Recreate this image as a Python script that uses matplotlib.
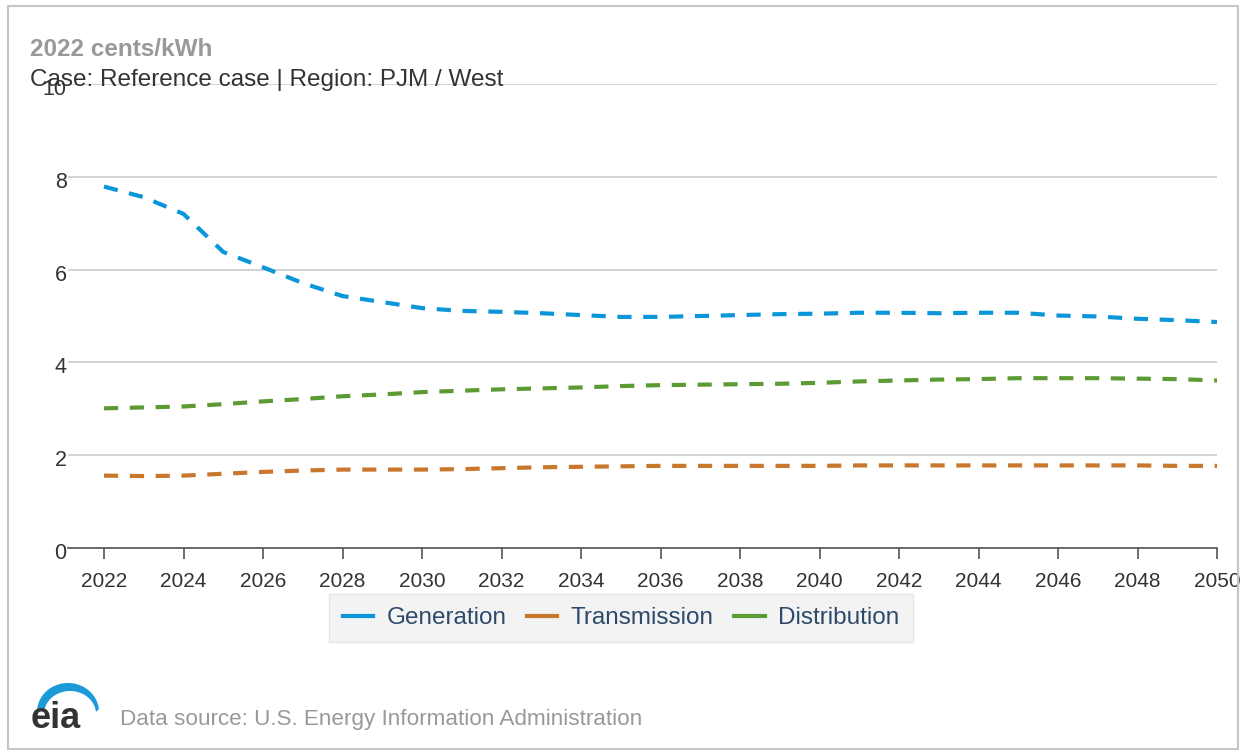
import numpy as np
import matplotlib.pyplot as plt
import matplotlib.transforms as mtransforms
from matplotlib.lines import Line2D
from matplotlib.patches import Rectangle, Polygon

plt.rcParams['font.family'] = ['Liberation Sans', 'DejaVu Sans']

# Electricity price components, 2022 cents/kWh
years = list(range(2022, 2051))
generation = [7.79, 7.56, 7.20, 6.38, 6.05, 5.71, 5.43, 5.30, 5.17, 5.11,
              5.09, 5.06, 5.02, 4.98, 4.98, 5.00, 5.02, 5.04, 5.05, 5.07,
              5.07, 5.06, 5.07, 5.07, 5.01, 4.99, 4.94, 4.91, 4.87]
transmission = [1.56, 1.55, 1.56, 1.60, 1.64, 1.67, 1.69, 1.69, 1.69, 1.70,
                1.72, 1.74, 1.75, 1.76, 1.77, 1.77, 1.77, 1.77, 1.77, 1.78,
                1.78, 1.78, 1.78, 1.78, 1.78, 1.78, 1.78, 1.77, 1.77]
distribution = [3.01, 3.03, 3.05, 3.10, 3.16, 3.21, 3.27, 3.31, 3.36, 3.39,
                3.42, 3.44, 3.46, 3.49, 3.51, 3.52, 3.53, 3.54, 3.56, 3.59,
                3.61, 3.63, 3.64, 3.66, 3.66, 3.66, 3.65, 3.64, 3.61]

series_names = ['Generation', 'Transmission', 'Distribution']
series_colors = ['#0a96d8', '#c8772c', '#5c9a33']
x_ticks = list(range(2022, 2051, 2))
y_ticks = [0, 2, 4, 6, 8, 10]

W, H = 1242, 750
fig = plt.figure(figsize=(W / 100, H / 100), dpi=100)

# outer frame
fig.patches.append(Rectangle((7.5 / W, 1 / H), 1230 / W, 743 / H, transform=fig.transFigure,
                             fill=False, edgecolor='#c6c6c6', lw=1.5))

ax = fig.add_axes([68 / W, (H - 548) / H, (1217 - 68) / W, (548 - 84) / H])
ax.set_xlim(2022 - 36 / 39.75, 2050)
ax.set_ylim(0, 10)

dash = (0, (3.4, 2.8))
for vals, name, col in zip([generation, transmission, distribution], series_names, series_colors):
    ax.plot(years, vals, color=col, lw=3.0, linestyle=dash, dash_capstyle='butt',
            solid_capstyle='butt', label=name, zorder=3)

ax.set_yticks(y_ticks)
ax.set_xticks(x_ticks)
ax.grid(axis='y', color='#cccccc', lw=1.2)
ax.set_axisbelow(True)
for s in ['top', 'right', 'left']:
    ax.spines[s].set_visible(False)
ax.spines['bottom'].set_color('#555555')
ax.spines['bottom'].set_linewidth(1.2)
ax.tick_params(axis='y', length=0, pad=1, labelsize=15.5, labelcolor='#333333')
# y labels sit a little below their grid lines
shift = mtransforms.ScaledTranslation(0, -3 / 100, fig.dpi_scale_trans)
for lbl in ax.get_yticklabels():
    lbl.set_transform(lbl.get_transform() + shift)
ax.tick_params(axis='x', length=8, width=1.2, color='#555555', pad=9,
               labelsize=15, labelcolor='#333333')

# titles
fig.text(30 / W, 1 - 49 / H, '2022 cents/kWh', fontsize=17.5, fontweight='bold',
         color='#999999', va='center', ha='left')
fig.text(30 / W, 1 - 80 / H, 'Case: Reference case | Region: PJM / West', fontsize=17.5,
         color='#333333', va='center', ha='left')

# legend with solid line symbols
handles = [Line2D([0], [0], color=c, lw=3) for c in series_colors]
leg = fig.legend(handles, series_names, ncol=3, loc='center',
                 bbox_to_anchor=(621 / W, 1 - 618 / H), frameon=True, fancybox=False,
                 fontsize=17.5, handlelength=1.25, handletextpad=0.55, columnspacing=0.85,
                 borderpad=0.55)
leg.get_frame().set_facecolor('#f0f0f0')
leg.get_frame().set_edgecolor('#e2e2e2')
for t in leg.get_texts():
    t.set_color('#2e4a6b')

# eia mark and source line
fig.text(31 / W, 1 - 719 / H, 'eia', fontsize=26, fontweight='bold', color='#333333',
         va='center', ha='left')
theta = np.linspace(np.pi * 0.97, np.pi * 0.03, 60)
outer = np.c_[68 + 31 * np.cos(theta), 712 - 29 * np.sin(theta)]
inner = np.c_[68 + 26 * np.cos(theta[::-1]) + 2, 712 - 23 * np.sin(theta[::-1]) + 2]
crescent = np.vstack([outer, inner])
fig.patches.append(Polygon(np.c_[crescent[:, 0] / W, 1 - crescent[:, 1] / H],
                           closed=True, transform=fig.transFigure,
                           facecolor='#1b9ad7', edgecolor='none'))
fig.text(120 / W, 1 - 720 / H, 'Data source: U.S. Energy Information Administration',
         fontsize=16.2, color='#999999', va='center', ha='left')

fig.savefig('out.png', dpi=100)
